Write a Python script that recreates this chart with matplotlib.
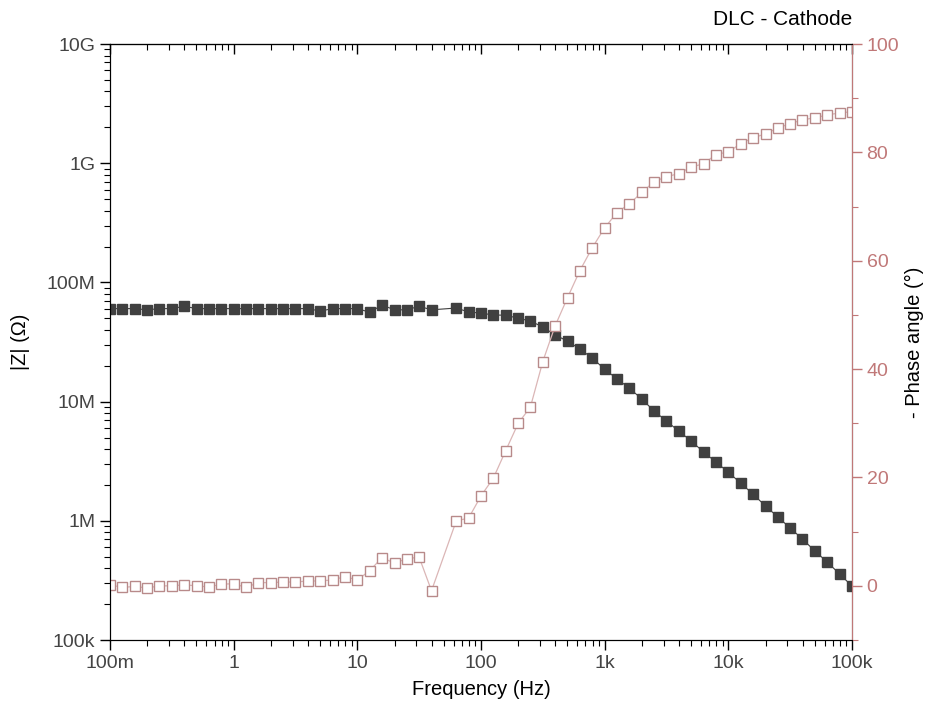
import matplotlib
matplotlib.use("Agg")
import matplotlib.pyplot as plt
from matplotlib.ticker import FixedLocator, FixedFormatter, LogLocator, MultipleLocator, NullFormatter

plt.rcParams['font.family'] = ['Liberation Sans', 'DejaVu Sans']

# measured frequencies (Hz), 50 Hz point absent in the source
freq = [0.1, 0.126, 0.158, 0.2, 0.251, 0.316, 0.398, 0.501, 0.631, 0.794,
        1, 1.26, 1.58, 2, 2.51, 3.16, 3.98, 5.01, 6.31, 7.94,
        10, 12.6, 15.8, 20, 25.1, 31.6, 39.8, 63.1, 79.4,
        100, 126, 158, 200, 251, 316, 398, 501, 631, 794,
        1000, 1260, 1580, 2000, 2510, 3160, 3980, 5010, 6310, 7940,
        10000, 12600, 15800, 20000, 25100, 31600, 39800, 50100, 63100, 79400,
        100000]

# |Z| in ohm
z_mod = [6.03e7, 6.03e7, 6.03e7, 5.89e7, 6.03e7, 6.03e7, 6.31e7, 6.03e7, 6.03e7, 6.03e7,
         6.03e7, 6.03e7, 6.03e7, 6.03e7, 6.03e7, 6.03e7, 6.03e7, 5.75e7, 6.03e7, 6.03e7,
         6.03e7, 5.62e7, 6.46e7, 5.89e7, 5.89e7, 6.31e7, 5.89e7, 6.10e7, 5.65e7,
         5.53e7, 5.33e7, 5.31e7, 5.01e7, 4.74e7, 4.23e7, 3.62e7, 3.22e7, 2.76e7, 2.32e7,
         1.87e7, 1.55e7, 1.30e7, 1.05e7, 8.34e6, 6.87e6, 5.66e6, 4.67e6, 3.78e6, 3.11e6,
         2.56e6, 2.07e6, 1.68e6, 1.33e6, 1.08e6, 8.71e5, 7.03e5, 5.58e5, 4.51e5, 3.58e5,
         2.84e5]

# -phase (degrees)
phase = [0.2, -0.3, -0.1, -0.4, 0.0, 0.0, 0.2, 0.0, -0.2, 0.3,
         0.4, -0.3, 0.6, 0.6, 0.7, 0.7, 0.9, 0.9, 1.1, 1.7,
         1.1, 2.8, 5.2, 4.2, 5.0, 5.3, -0.9, 12.0, 12.5,
         16.6, 19.9, 24.9, 30.0, 33.0, 41.4, 48.0, 53.2, 58.2, 62.4,
         66.1, 68.9, 70.5, 72.6, 74.6, 75.5, 76.1, 77.3, 77.9, 79.6,
         80.1, 81.6, 82.7, 83.4, 84.5, 85.3, 86.0, 86.4, 86.9, 87.3,
         87.5]

x_ticks = [0.1, 1, 10, 100, 1000, 10000, 100000]
x_labels = ['100m', '1', '10', '100', '1k', '10k', '100k']
y_ticks = [1e5, 1e6, 1e7, 1e8, 1e9, 1e10]
y_labels = ['100k', '1M', '10M', '100M', '1G', '10G']

rose = '#c07878'
tick_fs = 14
lab_fs = 14.5

fig = plt.figure(figsize=(9.3, 7.16), dpi=100)
ax = fig.add_axes([0.1183, 0.1061, 0.7978, 0.8324])

ax.plot(freq, z_mod, '-', color='#404040', lw=0.8, marker='s', ms=7.3,
        mfc='#404040', mec='#404040')
ax.set_xscale('log')
ax.set_yscale('log')
ax.set_xlim(0.1, 1e5)
ax.set_ylim(1e5, 1e10)

ax.xaxis.set_major_locator(FixedLocator(x_ticks))
ax.xaxis.set_major_formatter(FixedFormatter(x_labels))
ax.xaxis.set_minor_locator(LogLocator(base=10, subs=range(2, 10), numticks=20))
ax.xaxis.set_minor_formatter(NullFormatter())
ax.yaxis.set_major_locator(FixedLocator(y_ticks))
ax.yaxis.set_major_formatter(FixedFormatter(y_labels))
ax.yaxis.set_minor_locator(LogLocator(base=10, subs=range(2, 10), numticks=20))
ax.yaxis.set_minor_formatter(NullFormatter())

ax.tick_params(which='both', direction='out', labelsize=tick_fs, labelcolor='#444444')
ax.tick_params(which='major', length=7, width=1)
ax.tick_params(which='minor', length=4, width=0.8)
ax.set_xlabel('Frequency (Hz)', fontsize=lab_fs, labelpad=6)
ax.set_ylabel('|Z| (Ω)', fontsize=lab_fs, labelpad=12)

# top axis mirror with inward ticks
top = ax.secondary_xaxis('top')
top.xaxis.set_major_locator(FixedLocator(x_ticks))
top.xaxis.set_minor_locator(LogLocator(base=10, subs=range(2, 10), numticks=20))
top.tick_params(which='both', direction='in', labeltop=False)
top.tick_params(which='major', length=7, width=1)
top.tick_params(which='minor', length=4, width=0.8)

ax2 = ax.twinx()
ax2.plot(freq, phase, '-', color='#dbb6b6', lw=0.9, marker='s', ms=7,
         mfc='white', mec='#b88a8a', mew=1.0)
ax2.set_ylim(-10, 100)
ax2.yaxis.set_major_locator(MultipleLocator(20))
ax2.yaxis.set_minor_locator(MultipleLocator(10))
ax2.spines['right'].set_color(rose)
ax2.tick_params(axis='y', which='both', direction='out', colors=rose,
                labelsize=tick_fs)
ax2.tick_params(axis='y', which='major', length=7, width=1)
ax2.tick_params(axis='y', which='minor', length=4, width=0.8)
ax2.set_ylabel('- Phase angle (°)', fontsize=lab_fs, labelpad=4)

ax.set_title('DLC - Cathode', loc='right', fontsize=15, pad=14)

fig.savefig('out.png', dpi=100)
